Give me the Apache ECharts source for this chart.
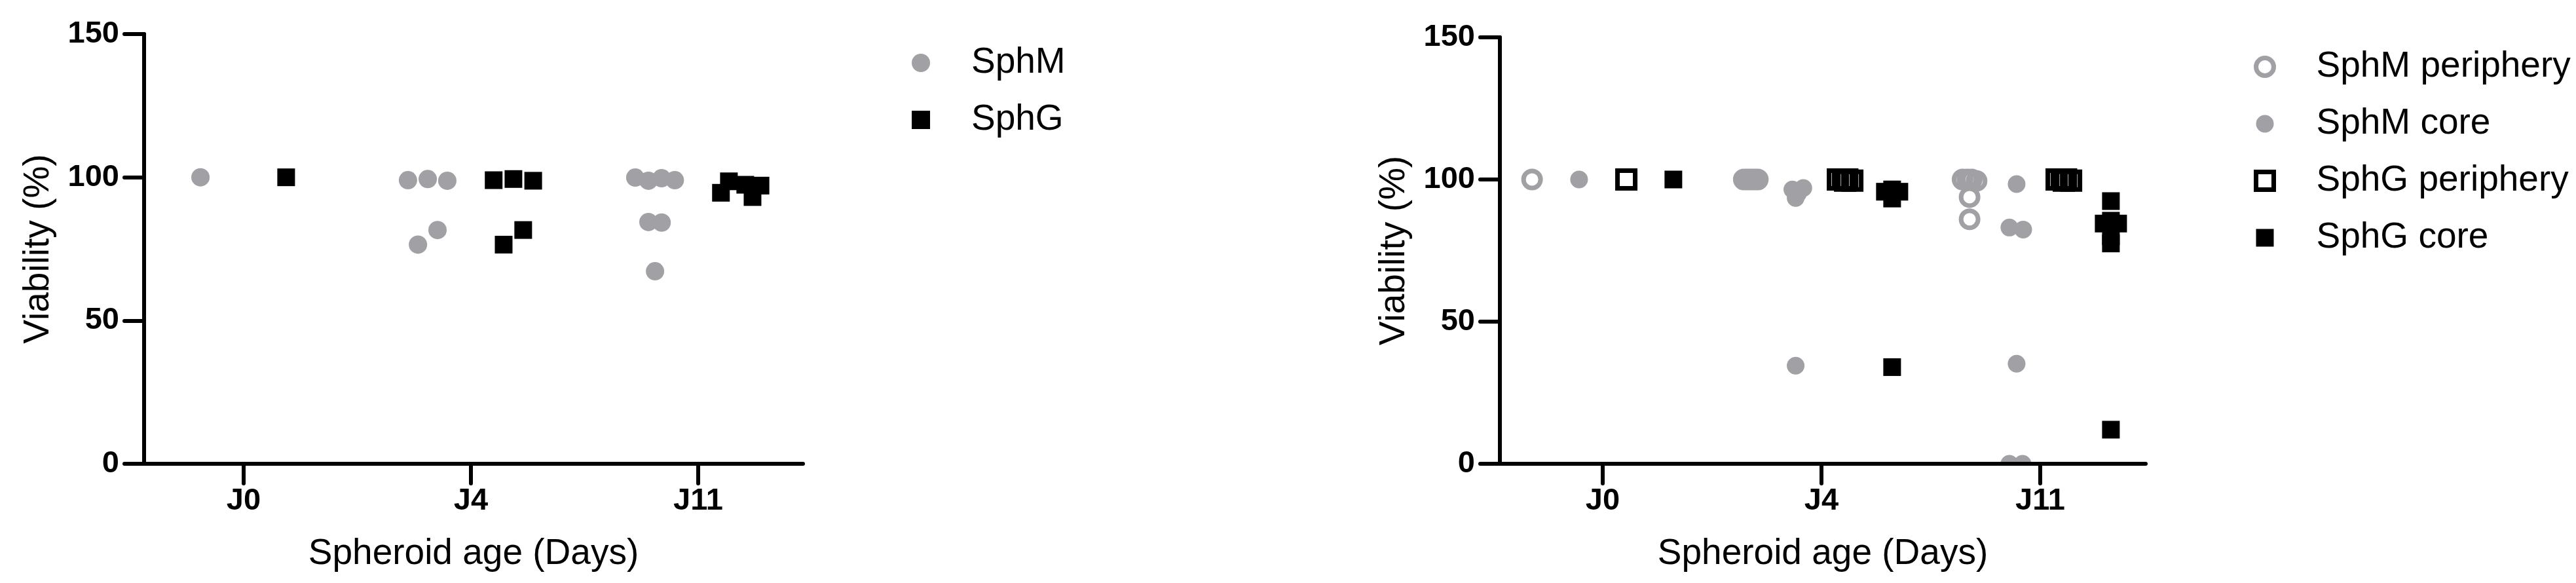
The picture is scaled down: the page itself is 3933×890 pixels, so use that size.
<!DOCTYPE html>
<html><head><meta charset="utf-8">
<script src="https://cdn.jsdelivr.net/npm/echarts@6/dist/echarts.min.js"></script>
<style>html,body{margin:0;padding:0;background:#fff}#c{width:3933px;height:890px}</style>
</head><body><div id="c"></div>
<script>
// ---------- DATA ----------
const categories = ['J0', 'J4', 'J11'];
const yTicks = [0, 50, 100, 150];

// Left panel: values per category, and horizontal jitter (category units) per point
const leftSphM = [[100], [99.0, 99.4, 98.8, 81.6, 76.5], [99.9, 98.8, 99.7, 99.0, 84.4, 84.2, 67.2]];
const leftSphMJitter = [[0], [-0.087, 0, 0.086, 0.043, -0.043], [-0.087, -0.029, 0.029, 0.087, -0.029, 0.029, 0]];
const leftSphG = [[100], [99.0, 99.4, 98.8, 81.6, 76.5], [94.6, 98.6, 97.4, 97.1, 93.1]];
const leftSphGJitter = [[0], [-0.087, 0, 0.087, 0.043, -0.043], [-0.087, -0.052, 0.02, 0.087, 0.052]];

// Right panel
const sphMPeriphery = [[100], [100, 100, 100, 100, 100], [100, 100, 100, 99.5, 93.8, 86.0]];
const sphMPeripheryJitter = [[0], [-0.032, -0.016, 0, 0.016, 0.032], [-0.032, -0.01, 0.01, 0.032, 0, 0]];
const sphMCore = [[100], [96.5, 97.0, 95.0, 93.5, 34.5], [98.4, 83.1, 82.4, 35.2, 0, 0]];
const sphMCoreJitter = [[0], [-0.025, 0.025, 0, -0.01, -0.01], [0, -0.033, 0.03, 0, -0.033, 0.027]];
const sphGPeriphery = [[100], [100, 100, 100, 99.6, 99.6], [100, 100, 100, 99.6, 99.6]];
const sphGPeripheryJitter = [[0], [-0.033, -0.01, 0.01, 0.0, 0.033], [-0.033, -0.01, 0.01, 0.0, 0.033]];
const sphGCore = [[100], [96.5, 93.3, 95.7, 95.7, 34.0], [92.4, 85.5, 84.5, 84.5, 80.0, 77.5, 12.0]];
const sphGCoreJitter = [[0], [0, 0, -0.033, 0.033, 0], [0, 0, -0.033, 0.033, 0, 0, 0]];

// ---------- STYLE / LAYOUT ----------
const FONT = '"Liberation Sans", Arial, Helvetica, sans-serif';
const GRAY = '#a0a0a5';
const BLACK = '#000000';

function toPoints(values, jitter, groupOffset) {
  const out = [];
  values.forEach((vals, ci) => vals.forEach((v, k) => out.push([ci + groupOffset + jitter[ci][k], v])));
  return out;
}

function xAxisCfg(gridIndex, min, max) {
  return {
    type: 'value', gridIndex, min, max, z: 10, position: 'bottom',
    name: 'Spheroid age (Days)', nameLocation: 'middle', nameGap: 110,
    nameTextStyle: { fontSize: 55, fontFamily: FONT, color: BLACK },
    axisLine: { show: true, onZero: false, lineStyle: { color: BLACK, width: 6, cap: 'round' } },
    axisTick: { show: true, length: 30, customValues: [0, 1, 2], lineStyle: { color: BLACK, width: 6, cap: 'round' } },
    axisLabel: { show: true, customValues: [0, 1, 2], formatter: v => categories[Math.round(v)], fontSize: 47, fontWeight: 'bold', fontFamily: FONT, color: BLACK, margin: 34 },
    splitLine: { show: false }
  };
}
function yAxisCfg(gridIndex) {
  return {
    type: 'value', gridIndex, min: yTicks[0], max: yTicks[yTicks.length - 1], interval: 50, z: 10, position: 'left',
    name: 'Viability (%)', nameLocation: 'middle', nameGap: 134,
    nameTextStyle: { fontSize: 55, fontFamily: FONT, color: BLACK },
    axisLine: { show: true, onZero: false, lineStyle: { color: BLACK, width: 6, cap: 'round' } },
    axisTick: { show: true, length: 30, lineStyle: { color: BLACK, width: 6, cap: 'round' } },
    axisLabel: { fontSize: 47, fontWeight: 'bold', fontFamily: FONT, color: BLACK, margin: 38 },
    splitLine: { show: false }
  };
}

const legendText = { fontSize: 55, fontFamily: FONT, color: BLACK, lineHeight: 60 };

const option = {
  animation: false,
  backgroundColor: '#ffffff',
  grid: [
    { left: 220, top: 52, width: 1006, height: 656 },
    { left: 2290, top: 57, width: 986, height: 651 }
  ],
  xAxis: [xAxisCfg(0, -0.438, 2.461), xAxisCfg(1, -0.47, 2.482)],
  yAxis: [yAxisCfg(0), yAxisCfg(1)],
  legend: [
    {
      orient: 'vertical', left: 1392, top: 66, padding: 0, itemWidth: 28, itemHeight: 28, itemGap: 27,
      textStyle: Object.assign({ padding: [0, 0, 0, 58] }, legendText),
      data: [
        { name: 'SphM', icon: 'circle', itemStyle: { color: GRAY, borderWidth: 0 } },
        { name: 'SphG', icon: 'rect', itemStyle: { color: BLACK, borderWidth: 0 } }
      ]
    },
    {
      orient: 'vertical', left: 3441, top: 72, padding: 0, itemWidth: 27, itemHeight: 27, itemGap: 27,
      textStyle: Object.assign({ padding: [0, 0, 0, 60] }, legendText),
      data: [
        { name: 'SphM periphery', icon: 'circle', itemStyle: { color: 'rgba(0,0,0,0)', borderColor: GRAY, borderWidth: 7 } },
        { name: 'SphM core', icon: 'circle', itemStyle: { color: GRAY, borderWidth: 0 } },
        { name: 'SphG periphery', icon: 'rect', itemStyle: { color: 'rgba(0,0,0,0)', borderColor: BLACK, borderWidth: 7 } },
        { name: 'SphG core', icon: 'rect', itemStyle: { color: BLACK, borderWidth: 0 } }
      ]
    }
  ],
  graphic: {
    elements: [
      { type: 'rect', z: 5, shape: { x: 2294, y: 711, width: 990, height: 24 }, style: { fill: '#ffffff' } }
    ]
  },
  series: [
    { name: 'SphM', type: 'scatter', xAxisIndex: 0, yAxisIndex: 0, symbol: 'circle', symbolSize: 28,
      itemStyle: { color: GRAY, opacity: 1 }, data: toPoints(leftSphM, leftSphMJitter, -0.19) },
    { name: 'SphG', type: 'scatter', xAxisIndex: 0, yAxisIndex: 0, symbol: 'rect', symbolSize: 27,
      itemStyle: { color: BLACK, opacity: 1 }, data: toPoints(leftSphG, leftSphGJitter, 0.187) },
    { name: 'SphM periphery', type: 'scatter', xAxisIndex: 1, yAxisIndex: 1, symbol: 'circle', symbolSize: 26,
      itemStyle: { color: 'rgba(0,0,0,0)', borderColor: GRAY, borderWidth: 7, opacity: 1 }, data: toPoints(sphMPeriphery, sphMPeripheryJitter, -0.323) },
    { name: 'SphM core', type: 'scatter', xAxisIndex: 1, yAxisIndex: 1, symbol: 'circle', symbolSize: 27,
      itemStyle: { color: GRAY, opacity: 1 }, data: toPoints(sphMCore, sphMCoreJitter, -0.108) },
    { name: 'SphG periphery', type: 'scatter', xAxisIndex: 1, yAxisIndex: 1, symbol: 'rect', symbolSize: 27,
      itemStyle: { color: 'rgba(0,0,0,0)', borderColor: BLACK, borderWidth: 7, opacity: 1 }, data: toPoints(sphGPeriphery, sphGPeripheryJitter, 0.108) },
    { name: 'SphG core', type: 'scatter', xAxisIndex: 1, yAxisIndex: 1, symbol: 'rect', symbolSize: 27,
      itemStyle: { color: BLACK, opacity: 1 }, data: toPoints(sphGCore, sphGCoreJitter, 0.323) }
  ]
};

const chart = echarts.init(document.getElementById('c'), null, { renderer: 'canvas' });
chart.setOption(option);
</script></body></html>
